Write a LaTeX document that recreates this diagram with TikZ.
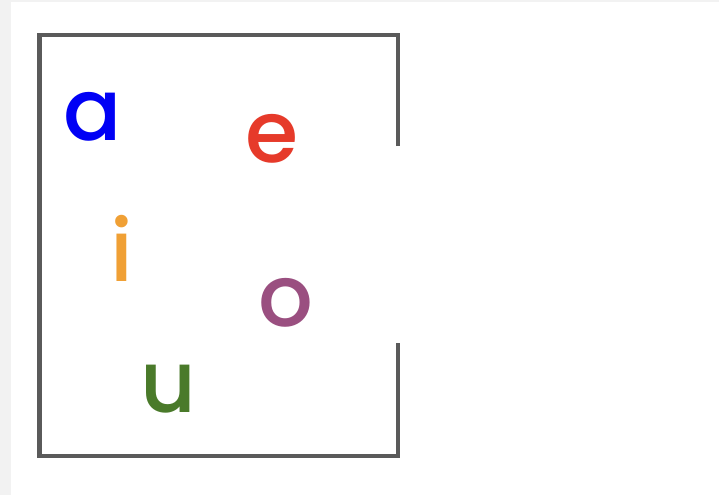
\documentclass[tikz,border=0pt]{standalone}
\usepackage{fontspec}
\setmainfont{Poppins}[UprightFont={* Medium}]
\usepackage{xcolor}
\usepackage{tikz}
\usetikzlibrary{positioning}

\definecolor{bggray}{HTML}{F2F2F2}
\definecolor{boxgray}{HTML}{5A5A5A}
\definecolor{vowelblue}{HTML}{0000F5}
\definecolor{vowelred}{HTML}{E63A2A}
\definecolor{vowelorange}{HTML}{F0A035}
\definecolor{vowelpurple}{HTML}{9A4F80}
\definecolor{vowelgreen}{HTML}{4A7A2A}

\begin{document}
\begin{tikzpicture}[x=1pt, y=-1pt,
    vowel/.style={anchor=base, inner sep=0pt, font=\fontsize{86}{86}\selectfont}]
    % 1. Nen va khung trang
    \useasboundingbox (0,0) rectangle (719,495);
    \fill[bggray] (0,0) rectangle (719,495);
    \fill[white] (11,2) rectangle (719,495);

    % 2. Khung chu nhat ho ben phai
    \draw[boxgray, line width=4.8pt]
        (398,146) -- (398,35) -- (39.5,35) -- (39.5,456) -- (398,456) -- (398,343);

    % 3. Cac nguyen am
    \node[vowel, text=vowelblue]   (a) at (92.5,140) {a};
    \node[vowel, text=vowelred]    (e) at (272.5,162) {e};
    \node[vowel, text=vowelorange] (i) at (122,281) {i};
    \node[vowel, text=vowelpurple] (o) at (286,326) {o};
    \node[vowel, text=vowelgreen]  (u) at (168,412) {u};
\end{tikzpicture}
\end{document}
